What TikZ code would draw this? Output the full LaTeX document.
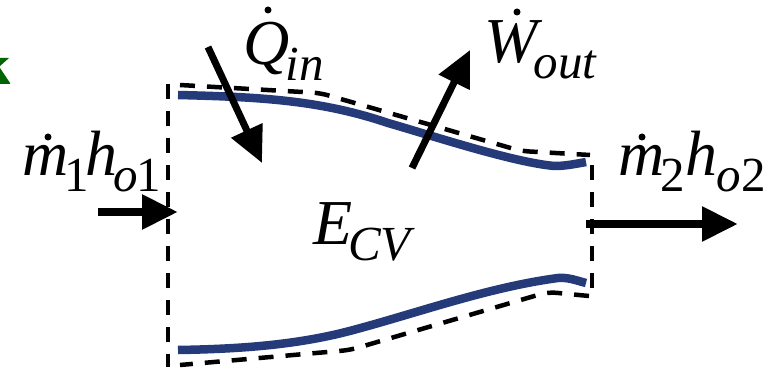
\documentclass[tikz,border=0pt]{standalone}
\usepackage{fontspec}
\usepackage{xcolor}
\setmainfont{Liberation Serif}
\usetikzlibrary{arrows.meta}
\definecolor{wallblue}{HTML}{253A78}
\definecolor{cutgreen}{HTML}{006400}
\newcommand{\subtxt}[1]{\hspace{-4pt}\raisebox{-16pt}{\fontsize{49}{49}\selectfont #1}}
\tikzset{
    termlabel/.style={anchor=base west, inner sep=0pt, font=\fontsize{64}{64}\selectfont\itshape},
    wall/.style={line width=8.5pt, wallblue},
    boundary/.style={line width=4.5pt, dash pattern=on 15pt off 12pt},
    flow/.style={line width=7pt, -{Triangle[length=36pt,width=33pt]}}
}

\begin{document}
\begin{tikzpicture}[x=1pt,y=-1pt]
        \useasboundingbox (0,0) rectangle (776,371);

        % Cut-off letter at the left edge
        \fill[cutgreen] (0,58) -- (9,58) -- (0,66) -- cycle;
        \fill[cutgreen] (0,68) -- (10,83) -- (10,84) -- (0,84) -- cycle;

        % Control volume boundary
        \draw[boundary] (168,84) -- (168,367);
        \draw[boundary, rounded corners=8pt] (180,85) -- (320,93) -- (521,151) -- (590,155);
        \draw[boundary] (592,165) -- (592,297);
        \draw[boundary, rounded corners=8pt] (589,296) -- (548,292) -- (350,350) -- (180,365);

        % Walls of the duct
        \draw[wall] (178,95) .. controls (260,97) and (320,100) .. (388,123) .. controls (430,135) and (515,163) .. (555,166) .. controls (565,166) and (575,164) .. (586,162);
        \draw[wall] (178,350) .. controls (240,349) and (300,345) .. (357,329) .. controls (420,312) and (490,287) .. (558,278) .. controls (568,277) and (578,281) .. (586,283);

        % End points of the flow arrows
        \coordinate (qtail) at (208,47);
        \coordinate (qtip) at (262,163);
        \coordinate (wtail) at (412,168);
        \coordinate (wtip) at (470,50);
        \coordinate (intail) at (98,212);
        \coordinate (intip) at (178,212);
        \coordinate (outtail) at (586,224);
        \coordinate (outtip) at (738,224);

        \draw[flow] (qtail) -- (qtip);
        \draw[flow] (wtail) -- (wtip);
        \draw[flow, line width=8.5pt] (intail) -- (intip);
        \draw[flow, line width=8.5pt] (outtail) -- (outtip);

        % Labels
        \node[termlabel] (inlabel) at (22,176) {m\subtxt{\upshape 1}\hspace{-3pt}h\subtxt{o\hspace{-2pt}\upshape 1}};
        \node[termlabel] (qlabel) at (243,65) {Q\subtxt{in}};
        \node[termlabel] (wlabel) at (484,63) {W\subtxt{out}};
        \node[termlabel] (elabel) at (313,245) {E\subtxt{CV}};
        \node[termlabel] (outlabel) at (618,176) {m\subtxt{\upshape 2}\hspace{1pt}h\hspace{3pt}\subtxt{o\upshape 2}};

        % Rate dots over the symbols
        \fill (48,137) circle (3.5);
        \fill (268,10) circle (3.5);
        \fill (517,12) circle (3.5);
        \fill (642,137) circle (3.5);
    \end{tikzpicture}
\end{document}
